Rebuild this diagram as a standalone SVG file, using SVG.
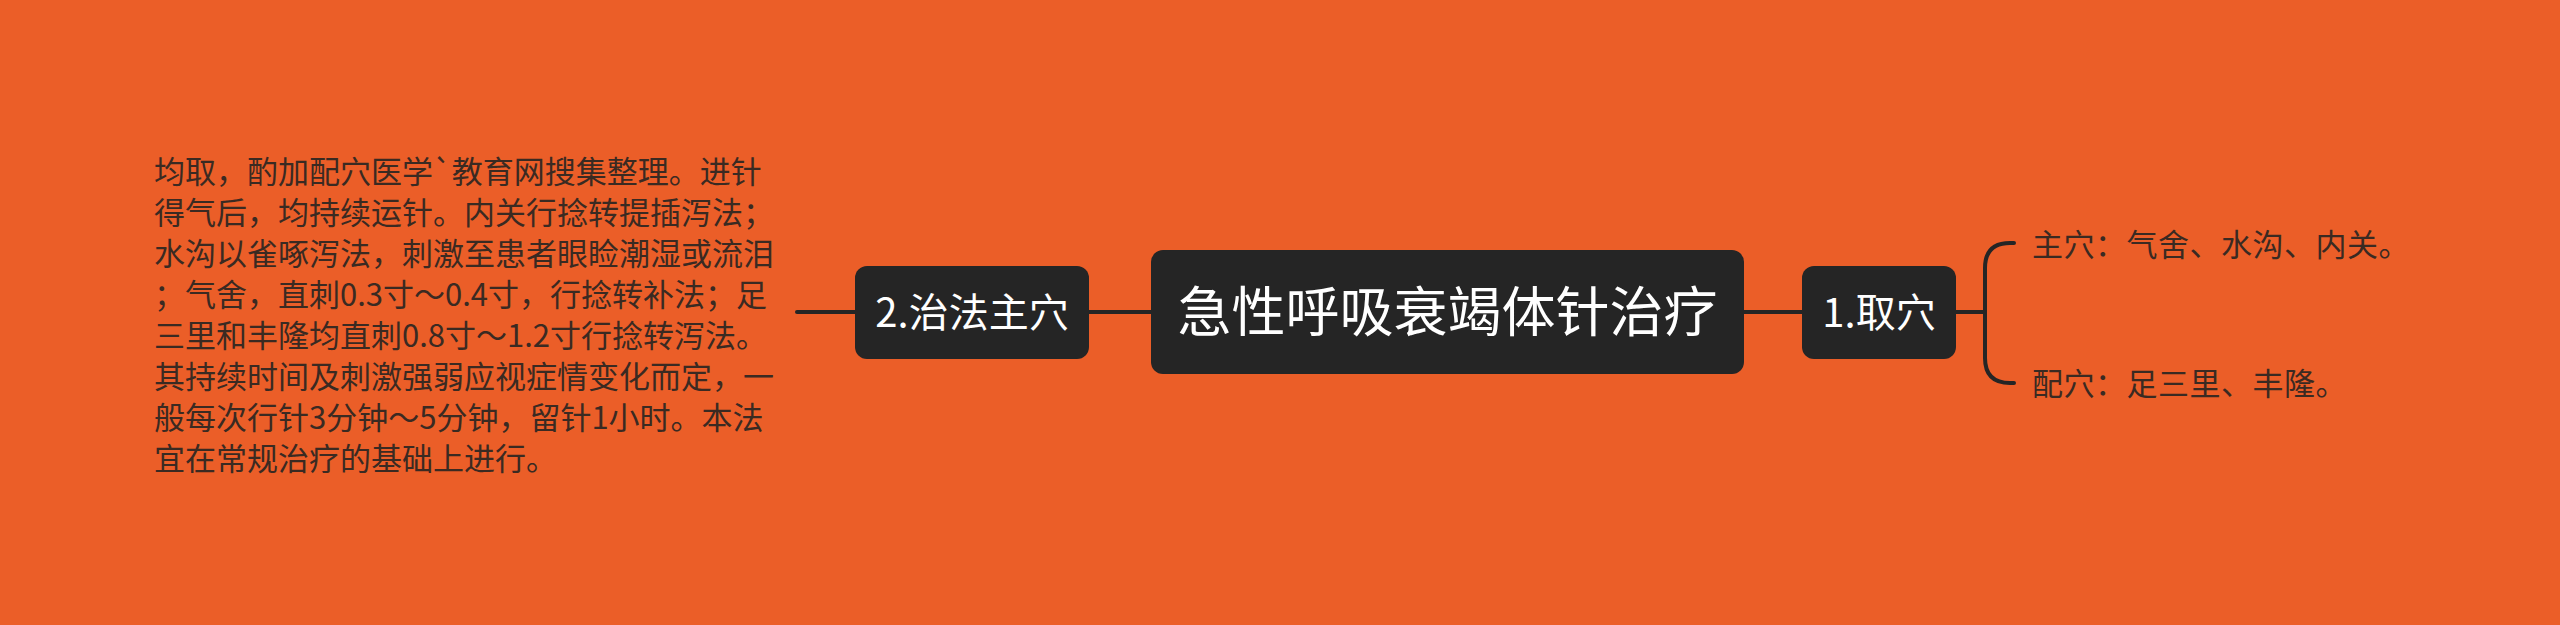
<svg xmlns="http://www.w3.org/2000/svg" width="2560" height="625" viewBox="0 0 2560 625">
<style>
.node{fill:#252525;}
.nt{fill:#ffffff;font-family:"Noto Sans CJK SC","Noto Sans",sans-serif;text-anchor:middle;}
.leaf{fill:#3a2a22;font-family:"Noto Sans CJK SC","Noto Sans",sans-serif;}
.conn{stroke:#252525;stroke-width:4;fill:none;stroke-linecap:round;}
</style>
<rect width="2560" height="625" fill="#EB5E28"/>
<g id="connectors">
<line class="conn" x1="797" y1="312" x2="855" y2="312"/>
<line class="conn" x1="1089" y1="312" x2="1151" y2="312"/>
<line class="conn" x1="1744" y1="312" x2="1802" y2="312"/>
<line class="conn" x1="1956" y1="312" x2="1985" y2="312"/>
<path class="conn" d="M2014 243 L2010 243 Q1985 243 1985 268 L1985 358 Q1985 383 2010 383 L2014 383"/>
</g>
<g id="root">
<rect class="node" x="1151" y="250" width="593" height="124" rx="12"/>
<text class="nt" x="1447.5" y="332" font-size="54">急性呼吸衰竭体针治疗</text>
</g>
<g id="n2">
<rect class="node" x="855" y="266" width="234" height="93" rx="12"/>
<text class="nt" x="972" y="327" font-size="40">2.治法主穴</text>
</g>
<g id="n1">
<rect class="node" x="1802" y="266" width="154" height="93" rx="12"/>
<text class="nt" x="1879" y="327" font-size="40">1.取穴</text>
</g>
<g id="n2-text">
<text class="leaf" font-size="31">
<tspan x="154" y="183">均取，酌加配穴医学`教育网搜集整理。进针</tspan>
<tspan x="154" y="224">得气后，均持续运针。内关行捻转提插泻法；</tspan>
<tspan x="154" y="265">水沟以雀啄泻法，刺激至患者眼睑潮湿或流泪</tspan>
<tspan x="154" y="306">；气舍，直刺0.3寸～0.4寸，行捻转补法；足</tspan>
<tspan x="154" y="347">三里和丰隆均直刺0.8寸～1.2寸行捻转泻法。</tspan>
<tspan x="154" y="388">其持续时间及刺激强弱应视症情变化而定，一</tspan>
<tspan x="154" y="429">般每次行针3分钟～5分钟，留针1小时。本法</tspan>
<tspan x="154" y="470">宜在常规治疗的基础上进行。</tspan>
</text>
</g>
<g id="leaf1">
<text class="leaf" x="2032" y="256" font-size="31" letter-spacing="0.5">主穴：气舍、水沟、内关。</text>
</g>
<g id="leaf2">
<text class="leaf" x="2032" y="395" font-size="31" letter-spacing="0.5">配穴：足三里、丰隆。</text>
</g>
</svg>
